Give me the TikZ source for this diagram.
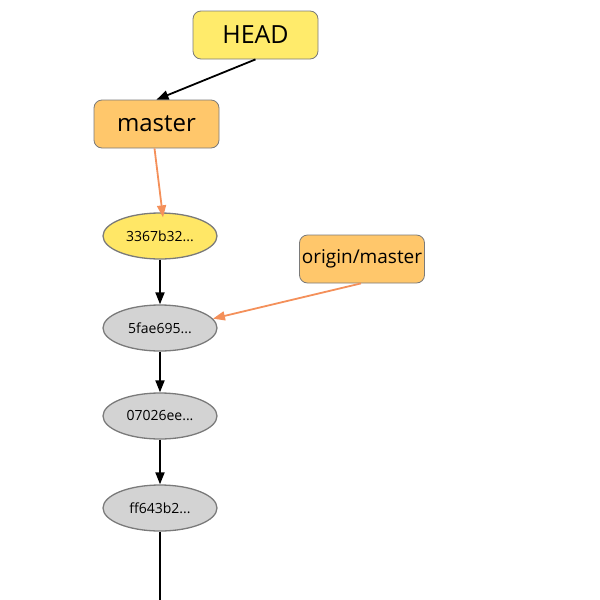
\documentclass[tikz,border=0pt]{standalone}
\usepackage{fontspec}
\setmainfont{Open Sans}
\usetikzlibrary{arrows.meta,shapes.geometric}
\definecolor{headfill}{HTML}{FFEB6B}
\definecolor{brfill}{HTML}{FFC76B}
\definecolor{curfill}{HTML}{FFE766}
\definecolor{cfill}{HTML}{D3D3D3}
\definecolor{bord}{HTML}{7A7A7A}
\definecolor{orarrow}{HTML}{F4905A}
\tikzset{
  refbox/.style={draw=bord, line width=0.8pt, rounded corners=8pt, minimum width=125pt, minimum height=48pt, inner sep=0pt},
  commit/.style={ellipse, draw=bord, line width=1.3pt, fill=cfill, minimum width=114pt, minimum height=46pt, inner sep=0pt, font=\fontsize{14}{16}\selectfont},
  blk/.style={draw=black, line width=1.8pt, -{Triangle[length=12pt,width=9pt]}},
  org/.style={draw=orarrow, line width=1.8pt, -{Triangle[length=12pt,width=9pt]}}
}
\begin{document}
\begin{tikzpicture}[x=1pt,y=-1pt]
\useasboundingbox (0,0) rectangle (600,600);
\node[refbox, fill=headfill, font=\fontsize{25}{28}\selectfont] (head) at (255.5,35) {HEAD};
\node[refbox, fill=brfill, font=\fontsize{24}{27}\selectfont] (master) at (156.5,124) {master};
\node[refbox, fill=brfill, font=\fontsize{19}{22}\selectfont] (origin) at (362,259) {origin/master};
\node[commit, fill=curfill] (c1) at (160,236) {3367b32...};
\node[commit] (c2) at (160,328) {5fae695...};
\node[commit] (c3) at (160,416) {07026ee...};
\node[commit] (c4) at (160,508) {ff643b2...};
\coordinate (tail) at (160,600);
\draw[blk] (head.south) -- (master.north);
\draw[org] ([xshift=-2pt]master.south) -- ([xshift=3pt,yshift=-5pt]c1.north);
\draw[blk] (c1) -- (c2);
\draw[blk] (c2) -- (c3);
\draw[blk] (c3) -- (c4);
\draw[org] ([xshift=-1pt]origin.south) -- (c2.10);
\draw[draw=black, line width=1.8pt] (c4.south) -- (tail);
\end{tikzpicture}
\end{document}
